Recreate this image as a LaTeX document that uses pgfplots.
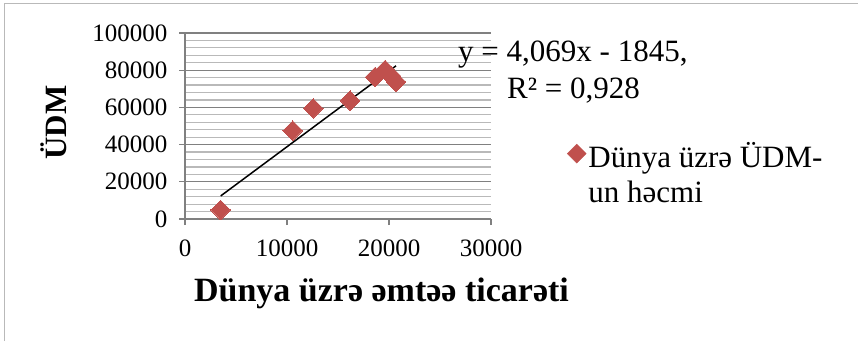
\documentclass[border=0pt]{standalone}
\usepackage{fontspec}
\setmainfont{Liberation Serif}
\usepackage{pgfplots}
\pgfplotsset{compat=1.18}
\definecolor{mred}{RGB}{192,80,77}
\definecolor{gmaj}{RGB}{128,128,128}
\definecolor{gmin}{RGB}{185,185,185}
\begin{document}
\begin{tikzpicture}[x=1bp,y=1bp]
\useasboundingbox (0,0) rectangle (858,341);
\draw[gray!55, line width=1bp] (4,0) -- (4,337) -- (858,337);
\begin{axis}[
  at={(185bp,122bp)}, anchor=south west, scale only axis,
  width=306bp, height=186bp,
  xmin=0, xmax=30000, ymin=0, ymax=100000,
  xtick={0,10000,20000,30000}, ytick={0,20000,40000,60000,80000,100000},
  xticklabels={0,10000,20000,30000},
  yticklabels={0,20000,40000,60000,80000,100000},
  minor y tick num=4,
  ymajorgrids, yminorgrids,
  major grid style={gmaj, line width=1.2bp},
  minor grid style={gmin, line width=1.2bp},
  axis x line*=bottom, axis y line*=left,
  axis line style={gmaj, line width=1.2bp},
  major tick style={gmaj, line width=1.2bp},
  major tick length=6bp, minor tick length=0pt,
  tick align=outside,
  scaled ticks=false,
  tick label style={font=\fontsize{25bp}{30bp}\selectfont, text=black},
  xticklabel style={yshift=-11bp},
  yticklabel style={xshift=-8bp},
  xlabel={Dünya üzrə əmtəə ticarəti},
  xlabel style={font=\bfseries\fontsize{34bp}{39bp}\selectfont, at={(axis description cs:0.642,-0.4446)}, anchor=base},
  ylabel={ÜDM},
  ylabel style={font=\bfseries\fontsize{31bp}{36bp}\selectfont, at={(axis description cs:-0.3866,0.519)}, anchor=base},
  legend style={at={(axis description cs:1.2477,0.424)}, anchor=north west, draw=none, fill=none,
    font=\fontsize{31bp}{35.5bp}\selectfont, inner sep=0pt},
  legend cell align=left,
  legend image code/.code={\fill[mred] (-3.8bp,2bp) -- (5.7bp,11.5bp) -- (15.2bp,2bp) -- (5.7bp,-7.5bp) -- cycle;},
]
\addplot[only marks, color=mred, mark=square*, mark size=6.9bp, mark options={rotate=45, fill=mred, draw=mred, line width=0pt}] coordinates {
  (3500,4840) (10560,47470) (12580,59500) (16180,63600)
  (18630,76340) (19610,80110) (20200,76880) (20690,73660)
};
\addlegendentry{\begin{tabular}[t]{@{}l@{}}Dünya üzrə ÜDM-\\un həcmi\end{tabular}}
\addplot[black, line width=1.5bp, forget plot] coordinates {(3500,12396.5) (20690,82342.6)};
\end{axis}
\node[anchor=base west, inner sep=0pt, font=\fontsize{31bp}{36bp}\selectfont] at (458,279.3) {y = 4,069x - 1845,};
\node[anchor=base west, inner sep=0pt, font=\fontsize{31bp}{36bp}\selectfont] at (507,242.7) {R² = 0,928};
\end{tikzpicture}
\end{document}
